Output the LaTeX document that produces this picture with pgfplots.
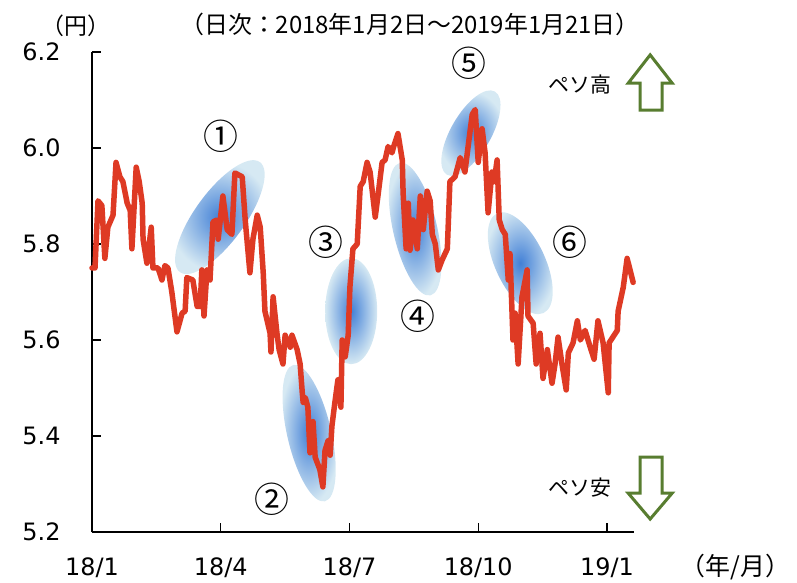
\documentclass[border=0pt]{standalone}
\usepackage{fontspec}
\setmainfont{DejaVu Sans}
\newfontfamily\jp{Noto Sans CJK JP}
\usepackage{pgfplots}
\pgfplotsset{compat=1.18}
\definecolor{pesoline}{RGB}{222,58,36}
\definecolor{arrowgreen}{RGB}{88,125,48}
\definecolor{blobin}{RGB}{66,128,214}
\definecolor{blobout}{RGB}{214,233,243}

\begin{document}
\begin{tikzpicture}
\useasboundingbox (-92bp,-51bp) rectangle (705bp,532bp);
\begin{axis}[
  scale only axis, width=542bp, height=480bp,
  xmin=0, xmax=12.63, ymin=5.2, ymax=6.2,
  axis x line=bottom, axis y line=left,
  axis line style={-, line width=2.6bp, black},
  tick align=inside, major tick length=9bp,
  tick style={line width=1.3bp, black},
  xtick={0,3,6,9,12}, xticklabels={18/1,18/4,18/7,18/10,19/1},
  ytick={5.2,5.4,5.6,5.8,6.0,6.2},
  yticklabel style={/pgf/number format/fixed, /pgf/number format/fixed zerofill,
    /pgf/number format/precision=1, xshift=-28bp},
  xticklabel style={yshift=-22bp},
  /pgf/number format/assume math mode=true,
  ticklabel style={font=\fontsize{24}{28}\selectfont},
  clip=false,
]
% highlighted phases
\shade[rotate around={54:(axis cs:2.98,5.856)}, inner color=blobin, outer color=blobout]
  (axis cs:2.98,5.856) ellipse [x radius=68bp, y radius=25bp];
\shade[rotate around={-77:(axis cs:5.06,5.406)}, inner color=blobin, outer color=blobout]
  (axis cs:5.06,5.406) ellipse [x radius=70bp, y radius=22bp];
\shade[inner color=blobin, outer color=blobout]
  (axis cs:6.04,5.66) ellipse [x radius=26bp, y radius=53bp];
\shade[rotate around={-77:(axis cs:7.53,5.831)}, inner color=blobin, outer color=blobout]
  (axis cs:7.53,5.831) ellipse [x radius=68bp, y radius=22bp];
\shade[rotate around={60:(axis cs:8.83,6.031)}, inner color=blobin, outer color=blobout]
  (axis cs:8.83,6.031) ellipse [x radius=48bp, y radius=20bp];
\shade[rotate around={-65:(axis cs:9.98,5.76)}, inner color=blobin, outer color=blobout]
  (axis cs:9.98,5.76) ellipse [x radius=55bp, y radius=25bp];

\addplot[pesoline, line width=5.5bp, line join=round, line cap=round] coordinates {
(0.00,5.75) (0.07,5.75) (0.14,5.89) (0.23,5.88) (0.30,5.77) (0.37,5.835) (0.49,5.86)
(0.56,5.97) (0.65,5.94) (0.72,5.93) (0.82,5.885) (0.89,5.87) (0.93,5.79) (1.03,5.96)
(1.10,5.93) (1.17,5.885) (1.19,5.81) (1.28,5.76) (1.38,5.835) (1.42,5.75) (1.54,5.75)
(1.63,5.725) (1.70,5.755) (1.77,5.75) (1.86,5.70) (1.98,5.617) (2.10,5.656) (2.17,5.66)
(2.21,5.73) (2.35,5.725) (2.45,5.67) (2.52,5.67) (2.56,5.746) (2.61,5.65) (2.68,5.746)
(2.75,5.725) (2.82,5.846) (2.91,5.85) (2.94,5.81) (3.05,5.90) (3.15,5.83) (3.26,5.82)
(3.33,5.948) (3.50,5.94) (3.57,5.85) (3.68,5.74) (3.75,5.81) (3.85,5.86) (3.92,5.835)
(3.99,5.74) (4.03,5.66) (4.15,5.614) (4.17,5.575) (4.22,5.69) (4.31,5.614) (4.36,5.58)
(4.45,5.55) (4.50,5.61) (4.62,5.585) (4.66,5.61) (4.78,5.58) (4.85,5.55) (4.90,5.49)
(4.92,5.47) (4.97,5.48) (5.03,5.46) (5.08,5.365) (5.15,5.43) (5.20,5.356) (5.31,5.33)
(5.38,5.294) (5.43,5.37) (5.50,5.39) (5.55,5.36) (5.59,5.42) (5.66,5.47) (5.73,5.517)
(5.80,5.46) (5.83,5.60) (5.90,5.565) (5.97,5.61) (6.01,5.71) (6.08,5.79) (6.18,5.80)
(6.25,5.92) (6.32,5.93) (6.41,5.97) (6.48,5.95) (6.60,5.856) (6.67,5.905) (6.76,5.97)
(6.83,5.975) (6.90,6.003) (6.99,5.99) (7.04,6.006) (7.13,6.03) (7.23,5.975) (7.25,5.906)
(7.32,5.79) (7.37,5.885) (7.41,5.787) (7.48,5.85) (7.58,5.79) (7.65,5.90) (7.72,5.83)
(7.81,5.91) (7.88,5.89) (7.93,5.82) (8.00,5.80) (8.07,5.746) (8.16,5.767) (8.28,5.79)
(8.34,5.93) (8.46,5.94) (8.58,5.98) (8.69,5.95) (8.76,6.00) (8.86,6.07) (8.93,6.08)
(9.00,5.97) (9.09,6.04) (9.16,5.99) (9.23,5.865) (9.32,5.95) (9.37,5.93) (9.44,5.975)
(9.49,5.85) (9.56,5.83) (9.63,5.82) (9.70,5.725) (9.74,5.78) (9.81,5.60) (9.86,5.656)
(9.93,5.55) (10.02,5.69) (10.14,5.746) (10.16,5.65) (10.28,5.635) (10.35,5.55) (10.44,5.614)
(10.51,5.52) (10.61,5.58) (10.72,5.51) (10.79,5.55) (10.86,5.606) (10.96,5.545) (11.05,5.496)
(11.10,5.573) (11.21,5.594) (11.31,5.64) (11.38,5.60) (11.49,5.62) (11.61,5.585) (11.70,5.56)
(11.79,5.64) (11.91,5.594) (12.03,5.49) (12.05,5.594) (12.24,5.62) (12.26,5.66) (12.38,5.71)
(12.47,5.77) (12.61,5.72)
};

% circled labels
\node[font=\jp\fontsize{35}{38}\selectfont] at (axis cs:3.007,6.025) {①};
\node[font=\jp\fontsize{35}{38}\selectfont] at (axis cs:4.196,5.269) {②};
\node[font=\jp\fontsize{35}{38}\selectfont] at (axis cs:5.455,5.804) {③};
\node[font=\jp\fontsize{35}{38}\selectfont] at (axis cs:7.599,5.650) {④};
\node[font=\jp\fontsize{35}{38}\selectfont] at (axis cs:8.788,6.177) {⑤};
\node[font=\jp\fontsize{35}{38}\selectfont] at (axis cs:11.14,5.804) {⑥};

% peso direction arrows
\draw[arrowgreen, line width=3bp, fill=white, line join=miter]
  (axis cs:13.007,6.194) -- (axis cs:13.52,6.135) -- (axis cs:13.287,6.135)
  -- (axis cs:13.287,6.079) -- (axis cs:12.774,6.079) -- (axis cs:12.774,6.135)
  -- (axis cs:12.494,6.135) -- cycle;
\draw[arrowgreen, line width=3bp, fill=white, line join=miter]
  (axis cs:13.007,5.227) -- (axis cs:13.52,5.281) -- (axis cs:13.287,5.281)
  -- (axis cs:13.287,5.356) -- (axis cs:12.774,5.356) -- (axis cs:12.774,5.281)
  -- (axis cs:12.494,5.281) -- cycle;
\node[font=\jp\fontsize{21}{24}\selectfont] at (axis cs:11.375,6.133) {ペソ高};
\node[font=\jp\fontsize{21}{24}\selectfont] at (axis cs:11.375,5.292) {ペソ安};

% titles and units
\node[font=\jp\fontsize{23}{25}\selectfont] at (axis cs:-0.373,6.254) {（円）};
\node[font=\jp\fontsize{24}{26}\selectfont] at (axis cs:7.41,6.258) {（日次：2018年1月2日～2019年1月21日）};
\node[font=\jp\fontsize{25}{28}\selectfont] at (axis cs:14.99,5.127) {（年/月）};
\end{axis}
\end{tikzpicture}
\end{document}
